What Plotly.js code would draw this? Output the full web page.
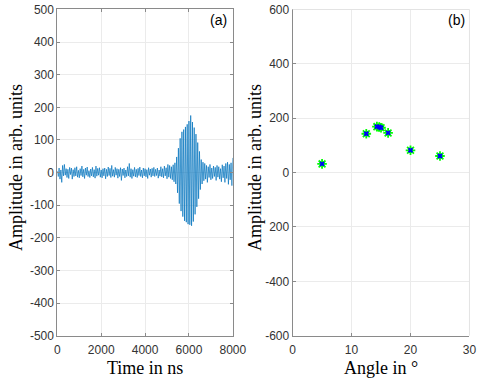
<!DOCTYPE html>
<html>
<head>
<meta charset="utf-8">
<script src="https://cdn.plot.ly/plotly-3.0.1.min.js"></script>
<style>
  html, body { margin: 0; padding: 0; background: #fff; }
  #plot { width: 482px; height: 386px; }
</style>
</head>
<body>
<div id="plot"></div>
<script>
// (a) received signal, one sample every 40 ns from 0 to 8000 ns
const sampleStep = 40;
const signalAmp = [
  5, -12, 14, -20, 8, -30, 22, -10, 25, -8,
  12, -15, 10, -18, 16, -6, 14, -20, 9, -12,
  15, -10, 18, -14, 7, -16, 12, -9, 20, -13,
  10, -18, 14, -8, 17, -12, 6, -15, 11, -10,
  16, -13, 9, -17, 20, -11, 13, -8, 15, -14,
  8, -16, 12, -10, 14, -19, 10, -12, 17, -9,
  13, -15, 22, -11, 9, -14, 16, -8, 12, -17,
  10, -12, 15, -24, 11, -9, 14, -16, 8, -12,
  18, -10, 28, -14, 12, -18, 9, -11, 16, -13,
  10, -15, 13, -9, 17, -12, 8, -16, 14, -10,
  12, -13, 9, -18, 15, -8, 11, -14, 13, -10,
  16, -12, 10, -9, 14, -17, 8, -11, 18, -13,
  12, -16, 20, -10, 15, -19, 25, -14, 22, -18,
  18, -22, 24, -28, 30, -35, 48, -62, 75, -95,
  105, -118, 125, -135, 132, -148, 140, -152, 148, -158,
  158, -160, 175, -163, 155, -150, 138, -128, 118, -105,
  92, -80, 65, -52, 40, -35, 32, -25, 28, -20,
  22, -30, 18, -15, 25, -22, 14, -18, 20, -12,
  16, -24, 22, -14, 18, -20, 12, -28, 24, -16,
  20, -30, 28, -18, 32, -36, 25, -22, 30, -40,
  45
];
const timeNs = signalAmp.map((v, i) => i * sampleStep);

// (b) peak amplitude against angle
const angleDeg = [5, 12.5, 14.3, 14.7, 15.0, 16.2, 20, 25];
const peakAmp = [32, 143, 169, 168, 165, 146, 82, 61];

const leftYTicks = [-500, -400, -300, -200, -100, 0, 100, 200, 300, 400, 500];
const leftXTicks = [0, 2000, 4000, 6000, 8000];
const rightYTicks = [-600, -400, -200, 0, 200, 400, 600];
const rightYLabels = ['-600', '-400', '200', '0', '200', '400', '600'];
const rightXTicks = [0, 10, 20, 30];

const tickFont = {family: 'Liberation Sans, Arial, sans-serif', size: 12, color: '#333'};
const titleFont = {family: 'Liberation Serif, Times New Roman, serif', size: 18, color: '#000'};
const panelFont = {family: 'Liberation Sans, Arial, sans-serif', size: 14, color: '#000'};

function axisStyle(extra) {
  return Object.assign({
    showline: true,
    linecolor: '#8a8a8a',
    linewidth: 1,
    mirror: 'ticks',
    ticks: 'inside',
    ticklen: 3,
    tickcolor: '#8a8a8a',
    showgrid: true,
    gridcolor: '#ebebeb',
    zeroline: false,
    tickfont: tickFont,
    fixedrange: true
  }, extra);
}

// paper-positioned label, centred on the given pixel
function label(text, px, py, font, angle) {
  return {
    text: text, xref: 'paper', yref: 'paper',
    x: px / 482, y: 1 - py / 386,
    xanchor: 'center', yanchor: 'middle',
    textangle: angle || 0, showarrow: false, font: font
  };
}

var signalTrace = {
  x: timeNs,
  y: signalAmp,
  type: 'scatter',
  mode: 'lines',
  line: {color: '#0072BD', width: 0.7},
  xaxis: 'x',
  yaxis: 'y',
  hoverinfo: 'skip'
};

var greenStars = {
  x: angleDeg,
  y: peakAmp,
  type: 'scatter',
  mode: 'markers',
  marker: {symbol: 'asterisk-open', size: 8, color: '#00ff00', line: {color: '#00ff00', width: 1.8}},
  xaxis: 'x2',
  yaxis: 'y2'
};

var blueStars = {
  x: angleDeg,
  y: peakAmp,
  type: 'scatter',
  mode: 'markers',
  marker: {symbol: 'x-thin-open', size: 4, color: '#0000ff', line: {color: '#0000ff', width: 2}},
  xaxis: 'x2',
  yaxis: 'y2'
};

var layout = {
  width: 482,
  height: 386,
  margin: {l: 0, r: 0, t: 0, b: 0},
  paper_bgcolor: '#fff',
  plot_bgcolor: '#fff',
  showlegend: false,
  xaxis: axisStyle({domain: [0.119, 0.483], range: [0, 8000], tickvals: leftXTicks, ticktext: leftXTicks.map(String), anchor: 'y', ticklabelstandoff: 3}),
  yaxis: axisStyle({domain: [0.1303, 0.9754], range: [-500, 500], tickvals: leftYTicks, ticktext: leftYTicks.map(String), anchor: 'x'}),
  xaxis2: axisStyle({domain: [0.607, 0.974], range: [0, 30], tickvals: rightXTicks, ticktext: rightXTicks.map(String), anchor: 'y2', mirror: false, ticklabelstandoff: 3}),
  yaxis2: axisStyle({domain: [0.1303, 0.9754], range: [-600, 600], tickvals: rightYTicks, ticktext: rightYLabels, anchor: 'x2', mirror: false}),
  shapes: [
    {type: 'line', xref: 'x2 domain', yref: 'y2 domain', x0: 0, x1: 1, y0: 1, y1: 1, line: {color: '#e3e3e3', width: 1}},
    {type: 'line', xref: 'x2 domain', yref: 'y2 domain', x0: 1, x1: 1, y0: 0, y1: 1, line: {color: '#e3e3e3', width: 1}}
  ],
  annotations: [
    label('(a)', 218.7, 20, panelFont),
    label('(b)', 456, 20, panelFont),
    label('Time in ns', 145, 368, titleFont),
    label('Angle in °', 381, 368, titleFont),
    label('Amplitude in arb. units', 16, 168, titleFont, -90),
    label('Amplitude in arb. units', 255, 168, titleFont, -90)
  ]
};

Plotly.newPlot('plot', [signalTrace, greenStars, blueStars], layout, {staticPlot: true, displayModeBar: false});
</script>
</body>
</html>
